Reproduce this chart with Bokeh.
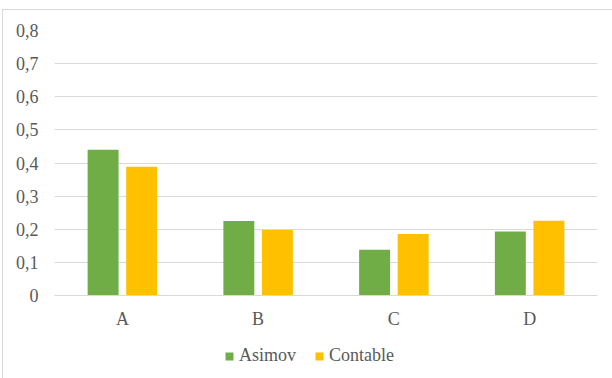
from bokeh.plotting import figure
from bokeh.layouts import column
from bokeh.models import FactorRange, Range1d, FixedTicker, CustomJSTickFormatter, Legend, LegendItem, ColumnDataSource
from bokeh.transform import dodge
from bokeh.embed import file_html
from bokeh.resources import INLINE

categories = ["A", "B", "C", "D"]
asimov = [0.44, 0.225, 0.138, 0.193]
contable = [0.389, 0.198, 0.186, 0.226]
y_ticks = [0, 0.1, 0.2, 0.3, 0.4, 0.5, 0.6, 0.7, 0.8]
series_names = ["Asimov", "Contable"]
series_colors = ["#70AD47", "#FFC000"]

FONT = "'Liberation Serif', serif"
TXT = "#595959"
GRID = "#D9D9D9"

src = ColumnDataSource(dict(cat=categories, asimov=asimov, contable=contable))

p = figure(width=609, height=325, x_range=FactorRange(*categories, range_padding=0),
           y_range=Range1d(0, 0.8), output_backend="svg", toolbar_location=None,
           min_border_left=51, min_border_right=15, min_border_top=20, min_border_bottom=40)
p.outline_line_color = None

r1 = p.vbar(x=dodge("cat", -0.142, range=p.x_range), top="asimov", width=0.228,
            source=src, fill_color=series_colors[0], line_color=None)
r2 = p.vbar(x=dodge("cat", 0.142, range=p.x_range), top="contable", width=0.228,
            source=src, fill_color=series_colors[1], line_color=None)

p.xgrid.grid_line_color = None
p.ygrid.grid_line_color = GRID
p.ygrid.ticker = FixedTicker(ticks=y_ticks)

p.yaxis.ticker = FixedTicker(ticks=y_ticks)
p.yaxis.formatter = CustomJSTickFormatter(code="return tick === 0 ? '0' : tick.toFixed(1).replace('.', ',');")
p.yaxis.axis_line_color = None
p.yaxis.major_tick_line_color = None
p.yaxis.minor_tick_line_color = None
p.yaxis.major_label_standoff = 10
p.yaxis.major_label_text_font = FONT
p.yaxis.major_label_text_font_size = "18px"
p.yaxis.major_label_text_color = TXT

p.xaxis.axis_line_color = GRID
p.xaxis.major_tick_line_color = None
p.xaxis.minor_tick_line_color = None
p.xaxis.major_label_standoff = 7
p.xaxis.major_label_text_font = FONT
p.xaxis.major_label_text_font_size = "18px"
p.xaxis.major_label_text_color = TXT

# legend strip below the chart (swatch renderers kept outside the visible range)
lp = figure(width=609, height=43, x_range=Range1d(0, 1), y_range=Range1d(0, 1),
            x_axis_location=None, y_axis_location=None,
            output_backend="svg", toolbar_location=None, min_border=0)
lp.grid.visible = False
lp.outline_line_color = None
swatches = [lp.vbar(x=[-5], top=[-5], width=0.1, fill_color=c, line_color=None) for c in series_colors]

legend = Legend(items=[LegendItem(label=n, renderers=[r]) for n, r in zip(series_names, swatches)],
                orientation="horizontal", location=(170, 12),
                padding=0, margin=0, spacing=18, label_standoff=5,
                glyph_width=10, glyph_height=10,
                border_line_color=None, background_fill_alpha=0,
                label_text_font=FONT, label_text_font_size="18px", label_text_color=TXT)
lp.add_layout(legend, "center")

layout = column(p, lp, spacing=0)
layout.styles = {"margin-left": "2px", "margin-top": "9px",
                 "border-left": "1px solid #D9D9D9", "border-top": "1px solid #D9D9D9"}

open("out.html", "w").write(file_html(layout, INLINE))
